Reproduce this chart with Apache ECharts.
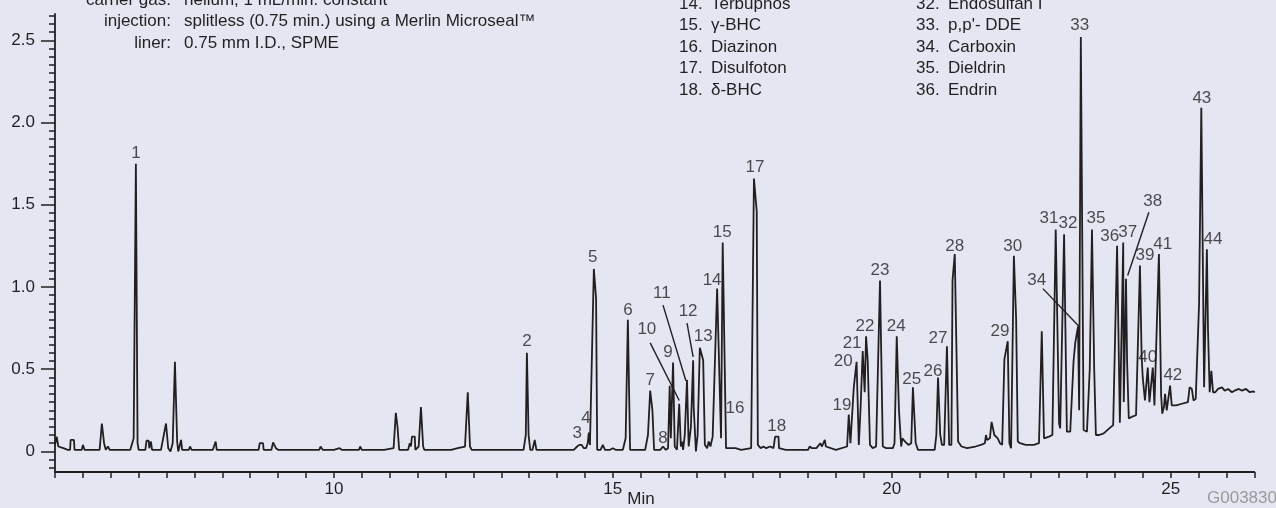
<!DOCTYPE html>
<html><head><meta charset="utf-8">
<script src="https://cdn.jsdelivr.net/npm/echarts@6/dist/echarts.min.js"></script>
<style>html,body{margin:0;padding:0;background:#e4e6f2;} #c{width:1276px;height:508px;}</style>
</head><body><div id="c"></div>
<script>
const FONT = "'Liberation Sans', Arial, Helvetica, sans-serif";
const INK = '#231f20';

// retention time (min), detector response
const chromatogram = [
[5.00,0.04],[5.03,0.09],[5.06,0.03],[5.15,0.02],[5.23,0.01],[5.27,0.01],[5.28,0.07],[5.34,0.07],[5.35,0.01],[5.48,0.01],[5.50,0.04],[5.53,0.01],
[5.80,0.01],[5.84,0.17],[5.88,0.05],[5.91,0.01],[5.95,0.03],[5.98,0.01],[6.05,0.01],[6.20,0.01],[6.35,0.01],[6.41,0.08],[6.45,1.75],[6.48,0.05],[6.50,0.01],
[6.62,0.01],[6.64,0.065],[6.68,0.065],[6.69,0.02],[6.72,0.06],[6.74,0.01],[6.90,0.01],[6.99,0.17],[7.03,0.02],[7.07,0.00],[7.11,0.05],[7.15,0.545],[7.19,0.06],
[7.21,0.00],[7.24,0.01],[7.26,0.07],[7.28,0.01],[7.40,0.01],[7.42,0.03],[7.45,0.01],[7.83,0.01],[7.88,0.06],[7.90,0.01],[8.35,0.01],[8.37,0.02],[8.40,0.01],
[8.65,0.01],[8.67,0.05],[8.73,0.05],[8.74,0.01],[8.88,0.01],[8.91,0.055],[8.96,0.02],[9.00,0.01],[9.30,0.01],[9.74,0.01],[9.76,0.03],[9.80,0.01],[10.00,0.01],
[10.10,0.02],[10.14,0.01],[10.45,0.01],[10.47,0.03],[10.50,0.01],[10.83,0.01],[10.86,0.02],[10.90,0.01],[11.07,0.02],[11.11,0.235],[11.14,0.15],[11.17,0.01],
[11.33,0.01],[11.36,0.05],[11.38,0.03],[11.40,0.09],[11.45,0.09],[11.46,0.01],[11.52,0.03],[11.56,0.27],[11.60,0.03],[11.62,0.01],[12.10,0.01],[12.12,0.02],
[12.22,0.02],[12.24,0.01],[12.35,0.03],[12.40,0.36],[12.44,0.03],[12.47,0.01],[13.05,0.01],[13.07,0.02],[13.10,0.01],[13.14,0.01],[13.16,0.02],[13.18,0.01],
[13.40,0.01],[13.44,0.10],[13.46,0.60],[13.49,0.10],[13.52,0.01],[13.56,0.01],[13.60,0.07],[13.63,0.01],[14.30,0.01],[14.36,0.03],[14.40,0.04],[14.44,0.04],
[14.45,0.05],[14.48,0.02],[14.52,0.02],[14.55,0.05],[14.57,0.115],[14.59,0.04],[14.62,0.05],[14.66,1.11],[14.70,0.93],[14.72,0.01],[14.78,0.01],[14.82,0.04],
[14.86,0.01],[14.95,0.01],[15.00,0.02],[15.05,0.01],[15.18,0.01],[15.23,0.08],[15.27,0.80],[15.31,0.01],[15.58,0.01],[15.63,0.10],[15.67,0.37],[15.71,0.25],
[15.74,0.01],[15.85,0.01],[15.90,0.03],[15.95,0.01],[15.99,0.02],[16.02,0.40],[16.04,0.08],[16.08,0.54],[16.11,0.03],[16.13,0.04],[16.15,0.01],[16.19,0.29],
[16.22,0.03],[16.24,0.06],[16.26,0.01],[16.29,0.10],[16.33,0.435],[16.36,0.03],[16.40,0.15],[16.44,0.555],[16.45,0.27],[16.49,0.00],[16.52,0.10],[16.56,0.63],
[16.62,0.555],[16.65,0.04],[16.69,0.02],[16.72,0.06],[16.75,0.03],[16.79,0.09],[16.81,0.09],[16.87,0.99],[16.94,0.08],[16.97,1.27],[17.03,0.02],[17.20,0.02],
[17.30,0.01],[17.48,0.02],[17.53,1.66],[17.58,1.46],[17.60,0.04],[17.65,0.02],[17.70,0.03],[17.75,0.02],[17.82,0.03],[17.88,0.02],[17.91,0.09],[17.97,0.09],
[17.98,0.02],[18.10,0.01],[18.30,0.01],[18.50,0.01],[18.53,0.03],[18.57,0.02],[18.65,0.02],[18.72,0.05],[18.75,0.03],[18.80,0.07],[18.82,0.03],[18.85,0.02],
[19.00,0.01],[19.20,0.03],[19.23,0.225],[19.26,0.05],[19.28,0.05],[19.32,0.39],[19.37,0.545],[19.41,0.04],[19.44,0.25],[19.48,0.61],[19.515,0.36],[19.54,0.70],
[19.57,0.55],[19.61,0.04],[19.66,0.02],[19.72,0.03],[19.79,1.04],[19.84,0.03],[19.90,0.02],[20.02,0.02],[20.05,0.05],[20.09,0.70],[20.13,0.25],[20.17,0.03],
[20.19,0.08],[20.24,0.06],[20.30,0.04],[20.33,0.03],[20.35,0.05],[20.38,0.39],[20.43,0.05],[20.47,0.01],[20.55,0.01],[20.77,0.01],[20.80,0.10],[20.83,0.45],
[20.87,0.10],[20.90,0.04],[20.94,0.04],[20.99,0.64],[21.03,0.04],[21.07,0.04],[21.09,1.04],[21.13,1.20],[21.19,0.06],[21.25,0.03],[21.35,0.02],[21.50,0.03],
[21.60,0.04],[21.67,0.05],[21.69,0.10],[21.71,0.07],[21.76,0.08],[21.79,0.18],[21.84,0.10],[21.90,0.08],[21.94,0.05],[21.98,0.04],[22.02,0.56],[22.08,0.67],
[22.11,0.05],[22.14,0.02],[22.19,1.19],[22.23,0.81],[22.26,0.06],[22.30,0.05],[22.40,0.04],[22.55,0.04],[22.64,0.05],[22.69,0.73],[22.73,0.08],[22.82,0.09],
[22.88,0.10],[22.94,1.35],[23.00,0.17],[23.02,0.14],[23.09,1.32],[23.14,0.12],[23.20,0.12],[23.26,0.55],[23.29,0.66],[23.34,0.76],[23.36,0.25],[23.39,2.52],
[23.44,0.13],[23.50,0.12],[23.55,0.50],[23.59,1.35],[23.63,0.50],[23.66,0.10],[23.72,0.10],[23.80,0.11],[23.90,0.14],[23.97,0.16],[24.04,1.25],[24.09,0.175],
[24.15,1.27],[24.16,0.30],[24.20,1.05],[24.22,0.54],[24.25,0.20],[24.30,0.21],[24.38,0.22],[24.45,1.13],[24.48,0.58],[24.50,0.45],[24.54,0.31],[24.59,0.51],
[24.62,0.30],[24.68,0.51],[24.71,0.28],[24.79,1.20],[24.83,0.34],[24.85,0.23],[24.88,0.27],[24.90,0.35],[24.93,0.25],[24.99,0.40],[25.02,0.28],[25.10,0.28],
[25.20,0.29],[25.31,0.30],[25.34,0.39],[25.38,0.38],[25.41,0.31],[25.45,0.32],[25.51,0.90],[25.55,2.09],[25.60,0.39],[25.65,1.23],[25.67,0.74],[25.70,0.36],
[25.73,0.49],[25.76,0.36],[25.80,0.36],[25.85,0.38],[25.92,0.39],[25.97,0.37],[26.03,0.38],[26.10,0.36],[26.15,0.37],[26.22,0.38],[26.28,0.37],[26.35,0.38],
[26.42,0.36],[26.48,0.365],[26.51,0.36]
];

const peakNames = ['1','2','3','4','5','6','7','8','9','10','11','12','13','14','15','16','17','18','19','20','21','22',
  '23','24','25','26','27','28','29','30','31','32','33','34','35','36','37','38','39','40','41','42','43','44'];
const peakLabelPos = [
[6.45,1.815],[13.46,0.67],[14.36,0.11],[14.52,0.20],[14.64,1.18],[15.27,0.86],[15.67,0.43],[15.90,0.08],[15.99,0.60],[15.61,0.74],
[15.88,0.96],[16.35,0.85],[16.62,0.70],[16.78,1.04],[16.96,1.33],[17.19,0.26],[17.55,1.73],[17.94,0.15],[19.11,0.28],[19.13,0.55],
[19.29,0.66],[19.52,0.76],[19.79,1.10],[20.08,0.76],[20.36,0.44],[20.74,0.49],[20.83,0.69],[21.13,1.25],[21.94,0.73],[22.17,1.25],
[22.82,1.42],[23.16,1.39],[23.37,2.59],[22.60,1.04],[23.66,1.42],[23.91,1.31],[24.23,1.33],[24.68,1.52],[24.54,1.19],[24.59,0.57],
[24.86,1.26],[25.04,0.46],[25.56,2.15],[25.76,1.29]
];
const leaderLines = [
[[15.67,0.66],[16.19,0.31]],
[[15.90,0.89],[16.31,0.43]],
[[16.33,0.78],[16.44,0.575]],
[[22.71,0.99],[23.36,0.76]],
[[24.61,1.455],[24.23,1.07]]
];

const xTickLabels = [10, 15, 20, 25];
const yTickLabels = [0, 0.5, 1.0, 1.5, 2.0, 2.5];
const yMinorTicks = [];
for (let k = -2; k <= 53; k++) yMinorTicks.push(+(k * 0.05).toFixed(2));

const conditionLabels = ['carrier gas:', 'injection:', 'liner:'];
const conditionValues = ['helium, 1 mL/min. constant', 'splitless (0.75 min.) using a Merlin Microseal\u2122', '0.75 mm I.D., SPME'];
const compoundsA = [['14.','Terbuphos'],['15.','\u03b3-BHC'],['16.','Diazinon'],['17.','Disulfoton'],['18.','\u03b4-BHC']];
const compoundsB = [['32.','Endosulfan I'],['33.',"p,p'- DDE"],['34.','Carboxin'],['35.','Dieldrin'],['36.','Endrin']];

const FS = 17;
const graphics = [];
function txt(x, y, s, align, color) {
  graphics.push({type:'text', x:x, y:y, silent:true, z:10,
    style:{text:s, fill:color||INK, font: FS + 'px ' + FONT, align:align||'left', verticalAlign:'middle'}});
}
conditionLabels.forEach((s,i)=>{ txt(171, 0 + i*21.5, s, 'right'); txt(184, 0 + i*21.5, conditionValues[i]); });
compoundsA.forEach((r,i)=>{ txt(679, 4.3 + i*21.4, r[0]); txt(711, 4.3 + i*21.4, r[1]); });
compoundsB.forEach((r,i)=>{ txt(916, 4.3 + i*21.4, r[0]); txt(948, 4.3 + i*21.4, r[1]); });
txt(641, 499, 'Min', 'center');
txt(1207, 498, 'G003830', 'left', '#9a9a9a');

const chart = echarts.init(document.getElementById('c'), null, {renderer:'canvas'});
chart.setOption({
  backgroundColor: '#e4e6f2',
  animation: false,
  grid: {left:55, right:21.7, top:14, bottom:36, containLabel:false},
  xAxis: {
    type:'value', min:5, max:26.5, interval:0.5,
    axisLine:{onZero:false, lineStyle:{color:INK, width:1.8}},
    axisTick:{show:true, length:6, inside:false, lineStyle:{color:INK, width:1.5}},
    axisLabel:{margin:9, fontSize:FS, fontFamily:FONT, color:INK,
      formatter: v => xTickLabels.indexOf(v) >= 0 ? String(v) : ''},
    splitLine:{show:false}
  },
  yAxis: [{
    type:'value', min:-0.125, max:2.66,
    axisLine:{show:true, onZero:false, lineStyle:{color:INK, width:1.8}},
    axisTick:{show:true, length:14, customValues: yTickLabels, lineStyle:{color:INK, width:1.5}},
    axisLabel:{margin:20, fontSize:FS, fontFamily:FONT, color:INK, customValues: yTickLabels,
      formatter: v => v === 0 ? '0' : v.toFixed(1)},
    splitLine:{show:false}
  },{
    type:'value', min:-0.125, max:2.66, position:'left',
    axisLine:{show:false, onZero:false},
    axisTick:{show:true, length:6, customValues: yMinorTicks, lineStyle:{color:INK, width:1.5}},
    axisLabel:{show:false},
    splitLine:{show:false}
  }],
  graphic: graphics,
  series: [{
    type:'line', data: chromatogram, showSymbol:false, symbol:'none',
    lineStyle:{color:INK, width:1.8}, clip:true, silent:true, z:3
  },{
    type:'lines', coordinateSystem:'cartesian2d', silent:true, z:4,
    data: leaderLines.map(c => ({coords:c})),
    lineStyle:{color:INK, width:1.4, opacity:1, curveness:0}
  },{
    type:'scatter', symbolSize:0, silent:true, z:5,
    data: peakNames.map((n,i) => ({name:n, value:peakLabelPos[i]})),
    label:{show:true, position:'inside', formatter:'{b}', fontSize:FS, fontFamily:FONT, color:INK}
  }]
});
</script></body></html>
